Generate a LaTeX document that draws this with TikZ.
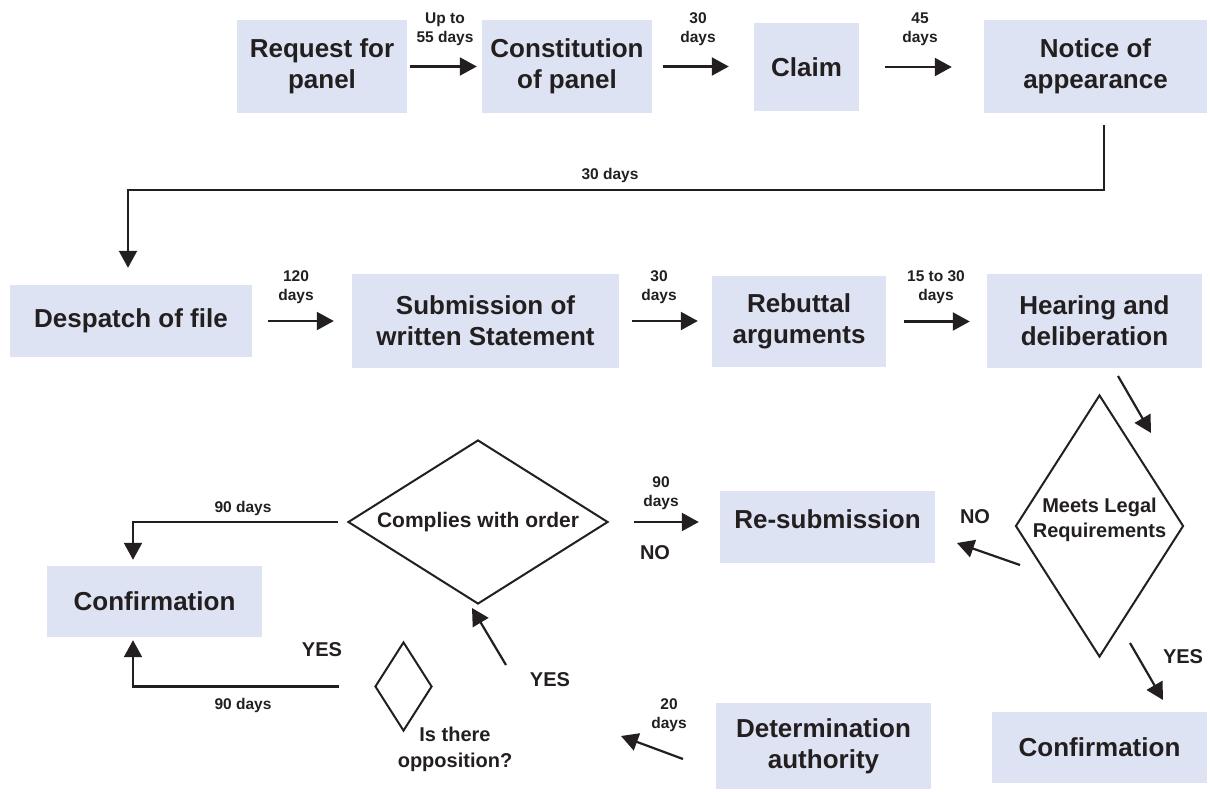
\documentclass[tikz,border=0pt]{standalone}
\usepackage{fontspec}
\setmainfont{Liberation Sans}
\usetikzlibrary{arrows.meta,shapes.geometric,calc}
\definecolor{boxfill}{RGB}{222,227,243}
\definecolor{ink}{RGB}{35,31,32}

\begin{document}
\begin{tikzpicture}[x=1pt,y=-1pt,
  stepbox/.style={fill=boxfill, draw=none, inner sep=0pt, align=center, text=ink,
    font=\fontsize{26}{31}\selectfont\bfseries},
  decision/.style={shape=diamond, draw=ink, line width=2pt, inner sep=0pt, align=center, text=ink,
    font=\fontsize{20}{25}\selectfont\bfseries},
  lbl/.style={text=ink, align=center, inner sep=0pt, font=\fontsize{15.5}{19}\selectfont\bfseries},
  answer/.style={text=ink, inner sep=0pt, align=center, font=\fontsize{20}{26}\selectfont\bfseries},
  arr/.style={draw=ink, line width=2.2pt, -{Triangle[length=17pt,width=18pt]}},
]
\useasboundingbox (0,0) rectangle (1210,792);

% ---- first row ----
\node[stepbox, minimum width=170pt, minimum height=93pt] (req) at (322,66.5) {Request for\\panel};
\node[stepbox, minimum width=170pt, minimum height=93pt] (con) at (567,66.5) {Constitution\\of panel};
\node[stepbox, minimum width=105pt, minimum height=88pt] (claim) at (806.5,67) {Claim};
\node[stepbox, minimum width=223pt, minimum height=93pt] (notice) at (1095.5,66.5) {Notice of\\appearance};

% ---- second row ----
\node[stepbox, minimum width=242pt, minimum height=72pt] (desp) at (131,321) {Despatch of file};
\node[stepbox, minimum width=267pt, minimum height=94pt] (subm) at (485.5,321) {Submission of\\written Statement};
\node[stepbox, minimum width=174pt, minimum height=91pt] (reb) at (799,321.5) {Rebuttal\\arguments};
\node[stepbox, minimum width=215pt, minimum height=94pt] (hear) at (1094.5,321) {Hearing and\\deliberation};

% ---- lower part ----
\node[stepbox, minimum width=215pt, minimum height=71pt] (confL) at (154.5,601.5) {Confirmation};
\node[stepbox, minimum width=215pt, minimum height=72pt, text height=14pt, text depth=12pt] (resub) at (827.5,527) {Re-submission};
\node[stepbox, minimum width=215pt, minimum height=86pt] (det) at (823.5,746) {Determination\\authority};
\node[stepbox, minimum width=215pt, minimum height=71pt] (confR) at (1099.5,747.5) {Confirmation};

% ---- decisions ----
\node[decision, font=\fontsize{21}{25}\selectfont\bfseries, aspect=1.585,
      minimum width=260pt, minimum height=164pt] (comp) at (478,522) {Complies with order};
\node[decision, aspect=0.641, minimum width=168pt, minimum height=262pt,
      label={[text=ink, align=center, inner sep=0pt, yshift=6pt,
              font=\fontsize{20}{25}\selectfont\bfseries]center:Meets Legal\\Requirements}]
      (legal) at (1099.5,526) {};
\node[decision, aspect=0.64, minimum width=57pt, minimum height=89pt] (opp) at (403.5,686.5) {};

% ---- free ends of the slanted arrows ----
\coordinate (hA) at (1118,376);  \coordinate (hB) at (1151,433);
\coordinate (nA) at (1020,565);  \coordinate (nB) at (957,543);
\coordinate (yA) at (1130,643);  \coordinate (yB) at (1163,700);
\coordinate (oA) at (506,665);   \coordinate (oB) at (472,608);
\coordinate (dA) at (683,759);   \coordinate (dB) at (621,736);

% ---- connectors ----
\draw[arr, shorten <=3pt, shorten >=5pt] (req) -- (con);
\draw[arr, shorten <=11pt, shorten >=25pt] (con.east) -- (con.east -| claim.west);
\draw[arr, shorten <=26pt, shorten >=32pt] (claim.east) -- (claim.east -| notice.west);
\draw[arr, shorten <=12pt, shorten >=17pt] ([xshift=8.5pt]notice.south) -- ++(0,77) -| ([xshift=-3pt]desp.north);

\draw[arr, shorten <=16pt, shorten >=18pt] (desp) -- (subm);
\draw[arr, shorten <=13pt, shorten >=14pt] (subm.east) -- (subm.east -| reb.west);
\draw[arr, shorten <=18pt, shorten >=17pt] (reb.east) -- (reb.east -| hear.west);

\draw[arr] (hA) -- (hB);
\draw[arr] (nA) -- (nB);
\draw[arr] (yA) -- (yB);
\draw[arr] (oA) -- (oB);
\draw[arr] (dA) -- (dB);

\draw[arr, shorten <=25pt, shorten >=21pt] (comp.east) -- (comp.east -| resub.west);
\draw[arr, shorten <=9pt, shorten >=6pt] (comp.west) -| ([xshift=-21.5pt]confL.north);
\draw[arr, shorten <=35pt, shorten >=3pt] (opp.west) -| ([xshift=-21.5pt]confL.south);

% ---- labels ----
\node[lbl] (t1) at (445,29) {Up to\\55 days};
\node[lbl] (t2) at (698,29) {30\\days};
\node[lbl] (t3) at (920,29) {45\\days};
\node[lbl] (t4) at (610,175) {30 days};
\node[lbl] (t5) at (296,287.5) {120\\days};
\node[lbl] (t6) at (659,287.5) {30\\days};
\node[lbl] (t7) at (936,287.5) {15 to 30\\days};
\node[lbl] (t8) at (661,493) {90\\days};
\node[lbl] (t9) at (243,508) {90 days};
\node[lbl] (t10) at (243,705) {90 days};
\node[lbl] (t11) at (669,715.5) {20\\days};

\node[answer] (a1) at (655,553) {NO};
\node[answer] (a2) at (975,517) {NO};
\node[answer] (a3) at (1183,657) {YES};
\node[answer] (a4) at (322,650) {YES};
\node[answer] (a5) at (550,680) {YES};
\node[answer] (q1) at (455,749) {Is there\\opposition?};
\end{tikzpicture}
\end{document}
